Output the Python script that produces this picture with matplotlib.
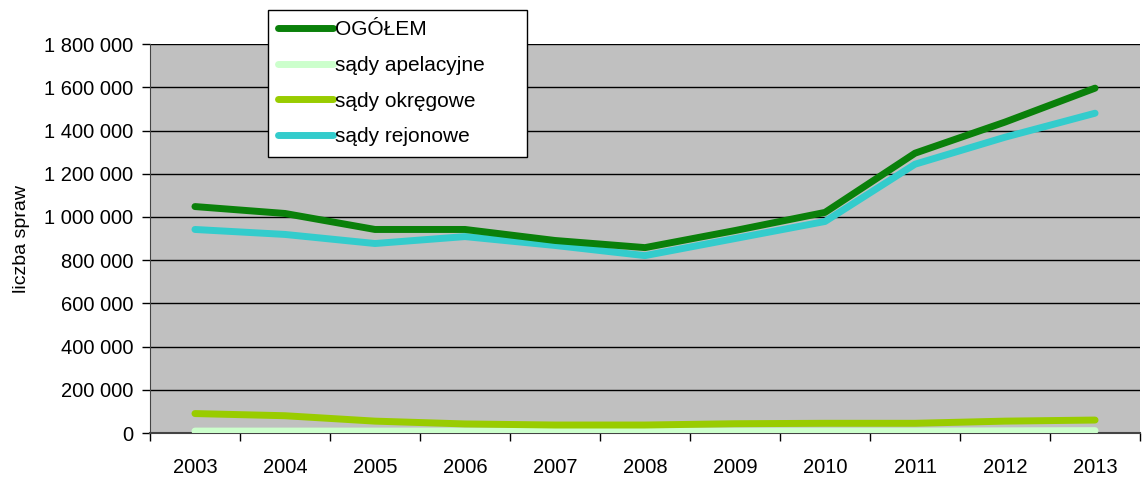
import matplotlib
matplotlib.use('Agg')
import matplotlib.pyplot as plt
from matplotlib.ticker import FuncFormatter

plt.rcParams['font.family'] = ['Liberation Sans', 'DejaVu Sans']

years = ['2003', '2004', '2005', '2006', '2007', '2008', '2009', '2010', '2011', '2012', '2013']

# values
ogolem = [1048000, 1016000, 942000, 942000, 891000, 858000, 937000, 1021000, 1295000, 1439000, 1596000]
apelacyjne = [9000, 9000, 9000, 9000, 9000, 9000, 9000, 9000, 9000, 10000, 11000]
okregowe = [90000, 80000, 55000, 42000, 37000, 37000, 43000, 45000, 45000, 55000, 60000]
rejonowe = [942000, 919000, 877000, 909000, 868000, 821000, 900000, 979000, 1244000, 1369000, 1480000]

fig = plt.figure(figsize=(11.42, 4.79), dpi=100)
ax = fig.add_axes([0.1313, 0.096, 0.867, 0.812])
ax.set_facecolor('#c0c0c0')

x = range(len(years))
lw = 5
ax.plot(x, ogolem, color='#0a800a', lw=lw, solid_capstyle='round', label='OGÓŁEM', zorder=5)
ax.plot(x, apelacyjne, color='#ccffcc', lw=lw, solid_capstyle='round', label='sądy apelacyjne', zorder=3)
ax.plot(x, okregowe, color='#99cc00', lw=lw, solid_capstyle='round', label='sądy okręgowe', zorder=4)
ax.plot(x, rejonowe, color='#33cccc', lw=lw, solid_capstyle='round', label='sądy rejonowe', zorder=4)

ax.set_xlim(-0.5, len(years) - 0.5)
ax.set_ylim(0, 1800000)
ax.set_yticks(range(0, 1800001, 200000))
ax.yaxis.set_major_formatter(FuncFormatter(lambda v, p: '{:,}'.format(int(v)).replace(',', ' ')))
ax.grid(axis='y', color='black', lw=1)
ax.set_axisbelow(True)

ax.set_xticks([i - 0.5 for i in range(len(years) + 1)])
ax.set_xticklabels([])
ax.set_xticks(list(x), minor=True)
ax.set_xticklabels(years, minor=True)
ax.tick_params(axis='x', which='minor', length=0, pad=18, labelsize=14.5)
ax.tick_params(axis='x', which='major', length=6, width=1)
ax.tick_params(axis='y', length=6, width=1, labelsize=14.5, pad=6)

for s in ['top', 'right']:
    ax.spines[s].set_visible(False)
ax.spines['left'].set_color('#444444')
ax.spines['bottom'].set_color('#444444')
ax.spines['bottom'].set_linewidth(1.5)

ax.set_ylabel('liczba spraw', fontsize=14, labelpad=10)

leg = fig.legend(loc='upper left', mode='expand',
                 bbox_to_anchor=(268 / 1142, 1 - 160 / 479, 259 / 1142, 150 / 479), fontsize=15,
                 frameon=True, fancybox=False, edgecolor='black', framealpha=1,
                 handlelength=2.6, handletextpad=0.1, labelspacing=0.8,
                 borderpad=0.5, borderaxespad=0)
leg.get_frame().set_linewidth(1)

fig.savefig('out.png', dpi=100)
